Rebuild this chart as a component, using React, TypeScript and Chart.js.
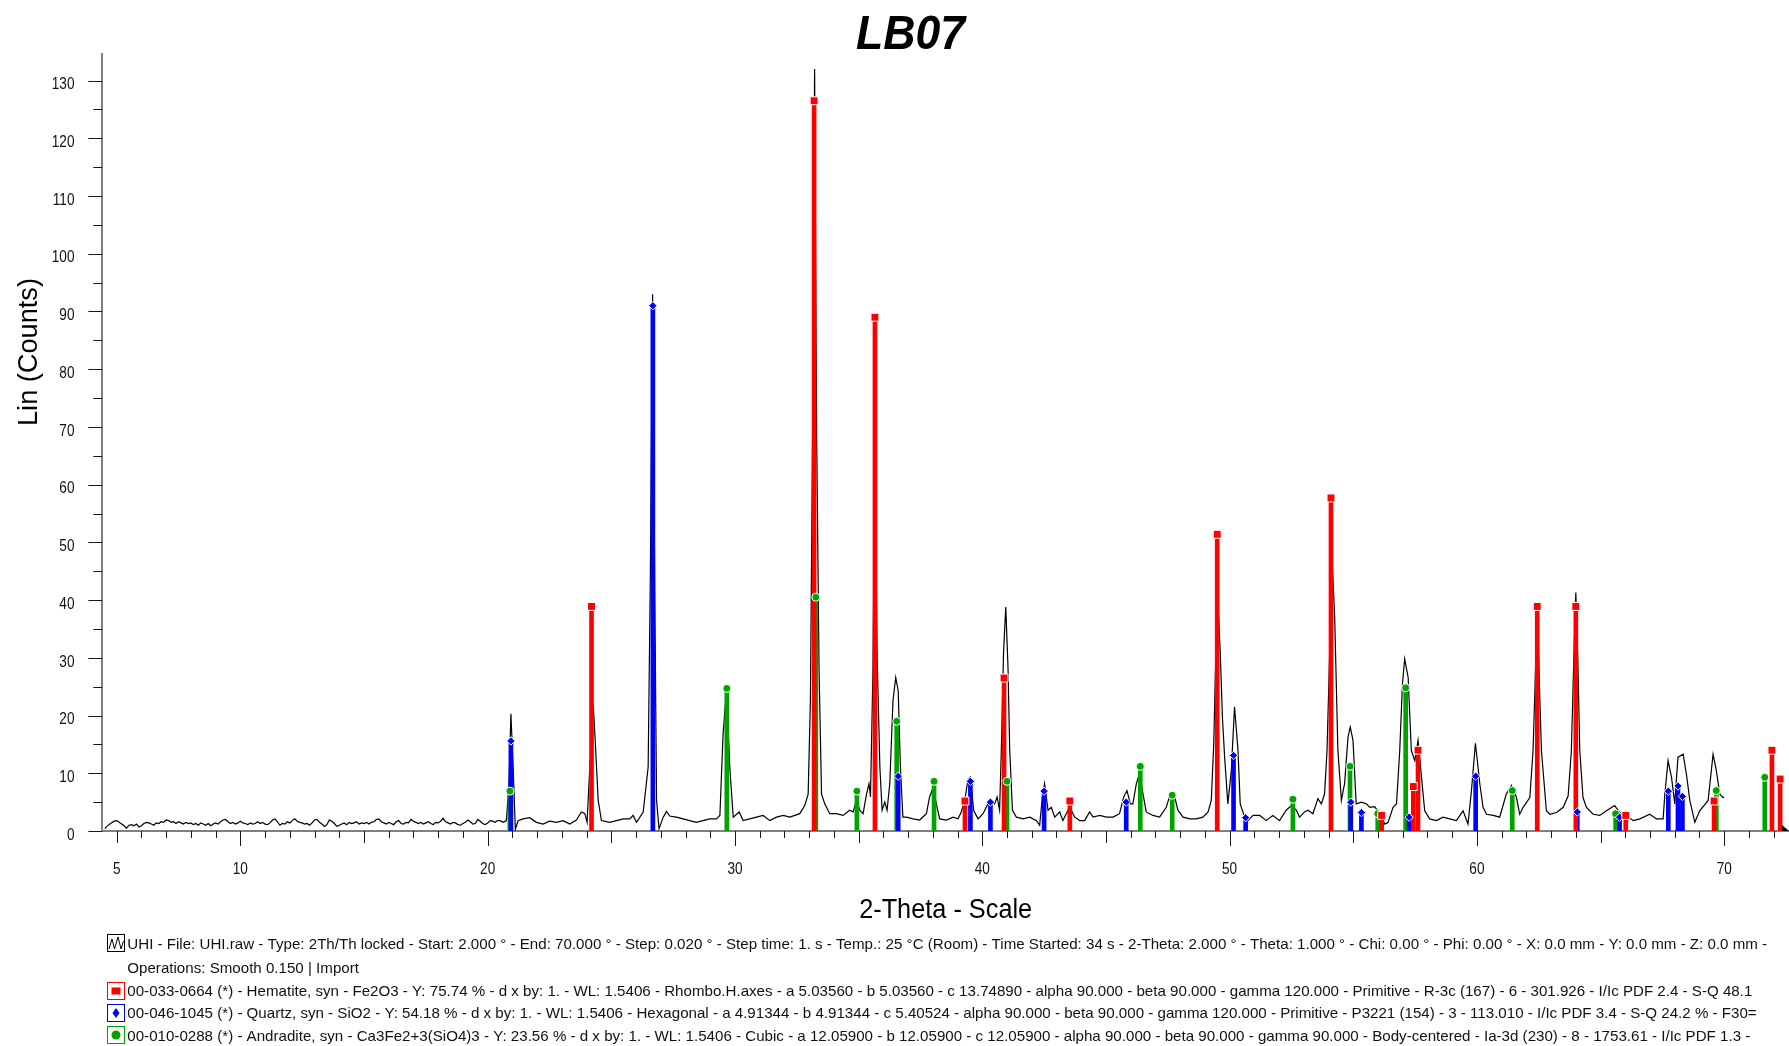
import React, { useEffect, useRef } from 'react';
import { Chart, registerables } from 'chart.js';

Chart.register(...registerables);

// ---- measured scan: [2-theta, counts] ----
const scan: [number, number][] = [
  [4.52, 0.4], [4.6, 0.8], [4.75, 1.3], [4.9, 1.7], [5.0, 1.8], [5.1, 1.5], [5.2, 1.2], [5.3, 0.9], [5.4, 0.5], [5.5, 1.0],
  [5.6, 1.1], [5.7, 0.9], [5.8, 1.2], [5.9, 0.7], [6.0, 0.9], [6.1, 1.3], [6.2, 1.5], [6.3, 1.4], [6.4, 1.2], [6.5, 1.0],
  [6.6, 1.4], [6.7, 1.3], [6.8, 1.6], [6.9, 1.5], [7.0, 1.9], [7.1, 1.8], [7.2, 1.5], [7.3, 1.6], [7.4, 1.3], [7.5, 1.6],
  [7.6, 1.4], [7.7, 1.2], [7.8, 1.5], [7.9, 1.3], [8.0, 1.4], [8.1, 1.1], [8.2, 1.3], [8.3, 1.0], [8.4, 1.4], [8.5, 1.2],
  [8.6, 1.0], [8.7, 1.3], [8.8, 0.9], [8.9, 1.2], [9.0, 1.4], [9.1, 1.2], [9.2, 1.6], [9.3, 1.9], [9.4, 2.0], [9.5, 1.6],
  [9.6, 1.3], [9.7, 1.5], [9.8, 1.2], [9.9, 1.4], [10.0, 1.7], [10.1, 1.4], [10.2, 1.3], [10.3, 1.1], [10.4, 1.4], [10.5, 1.2],
  [10.6, 1.3], [10.7, 1.6], [10.8, 1.3], [10.9, 1.5], [11.0, 1.2], [11.1, 1.1], [11.2, 1.4], [11.3, 1.9], [11.4, 2.1], [11.5, 1.6],
  [11.6, 1.0], [11.7, 1.3], [11.8, 1.2], [11.9, 1.6], [12.0, 1.4], [12.1, 1.8], [12.2, 2.1], [12.3, 1.7], [12.4, 1.5], [12.5, 1.4],
  [12.6, 1.2], [12.7, 1.3], [12.8, 1.0], [12.9, 1.4], [13.0, 1.9], [13.1, 2.0], [13.2, 1.5], [13.3, 1.2], [13.4, 0.8], [13.5, 1.1],
  [13.6, 1.9], [13.7, 1.7], [13.8, 1.3], [13.9, 0.8], [14.0, 1.0], [14.1, 1.2], [14.2, 1.4], [14.3, 1.1], [14.4, 1.5], [14.5, 1.3],
  [14.6, 1.4], [14.7, 1.6], [14.8, 1.2], [14.9, 1.4], [15.0, 1.3], [15.1, 1.5], [15.2, 1.2], [15.3, 1.5], [15.4, 1.6], [15.5, 2.0],
  [15.6, 2.1], [15.7, 1.6], [15.8, 1.4], [15.9, 1.2], [16.0, 1.5], [16.1, 1.3], [16.2, 1.1], [16.3, 1.6], [16.4, 1.8], [16.5, 1.3],
  [16.6, 1.2], [16.7, 1.5], [16.8, 1.4], [16.9, 2.0], [17.0, 1.7], [17.1, 1.5], [17.2, 1.3], [17.3, 1.5], [17.4, 1.2], [17.5, 1.4],
  [17.6, 1.6], [17.7, 1.3], [17.8, 1.1], [17.9, 1.5], [18.0, 1.4], [18.1, 1.7], [18.2, 2.2], [18.3, 1.6], [18.4, 1.4], [18.5, 1.2],
  [18.6, 1.5], [18.7, 1.4], [18.8, 1.1], [18.9, 1.0], [19.0, 1.3], [19.1, 1.5], [19.2, 1.9], [19.3, 1.6], [19.4, 1.2], [19.5, 1.3],
  [19.6, 2.0], [19.7, 1.7], [19.8, 1.3], [19.9, 1.1], [20.0, 1.4], [20.1, 1.8], [20.2, 1.7], [20.3, 1.5], [20.4, 1.8], [20.5, 1.8],
  [20.63, 1.5], [20.76, 1.8], [20.86, 8.2], [20.94, 20.3], [21.03, 11.1], [21.12, 0.3], [21.23, 1.8], [21.43, 2.1], [21.7, 2.3], [21.97, 1.5],
  [22.24, 1.2], [22.51, 1.7], [22.78, 1.5], [23.05, 1.8], [23.32, 1.2], [23.59, 1.9], [23.79, 3.3], [23.93, 3.0], [24.02, 1.5], [24.13, 11.1],
  [24.27, 21.9], [24.37, 13.9], [24.47, 5.3], [24.6, 1.8], [24.94, 1.5], [25.21, 1.8], [25.48, 2.1], [25.75, 2.1], [25.88, 2.7], [26.02, 1.5],
  [26.29, 3.3], [26.49, 11.1], [26.58, 45], [26.67, 93], [26.76, 40], [26.83, 5.3], [26.93, 0.4], [27.1, 2.4], [27.23, 3.4], [27.36, 2.6],
  [27.63, 2.4], [27.9, 2.1], [28.17, 1.8], [28.44, 1.5], [28.71, 1.8], [28.98, 2.1], [29.25, 2.1], [29.39, 2.7], [29.52, 16.8], [29.66, 24.6],
  [29.79, 11.1], [29.93, 2.4], [30.17, 3.3], [30.33, 1.8], [30.6, 2.1], [30.87, 2.4], [31.14, 2.7], [31.41, 1.8], [31.68, 2.4], [31.95, 2.7],
  [32.22, 2.4], [32.62, 3.0], [32.82, 4.4], [32.96, 6.4], [33.05, 22.6], [33.14, 70], [33.22, 132], [33.3, 70], [33.4, 28], [33.5, 6.4],
  [33.63, 4.7], [33.83, 3.0], [34.1, 3.0], [34.37, 2.7], [34.64, 3.6], [34.78, 3.3], [34.91, 5.3], [35.05, 3.6], [35.18, 3.0], [35.32, 6.4],
  [35.42, 8.2], [35.48, 5.9], [35.58, 28], [35.66, 66], [35.75, 30], [35.86, 11], [35.95, 3.6], [36.06, 5.0], [36.15, 3.6], [36.26, 8.2],
  [36.39, 22.6], [36.5, 26.6], [36.6, 24.3], [36.69, 11.1], [36.79, 2.4], [36.93, 2.4], [37.2, 2.1], [37.47, 1.9], [37.74, 3.0], [37.87, 5.9],
  [38.01, 7.5], [38.14, 4.7], [38.28, 2.1], [38.55, 1.9], [38.82, 2.4], [39.02, 2.1], [39.15, 3.3], [39.29, 5.3], [39.42, 8.8], [39.52, 9.3],
  [39.65, 3.6], [39.83, 2.1], [40.03, 3.0], [40.23, 4.7], [40.33, 5.3], [40.5, 4.7], [40.6, 5.9], [40.7, 3.6], [40.77, 14], [40.86, 31],
  [40.95, 38.8], [41.04, 28.4], [41.11, 14], [41.22, 3.6], [41.38, 2.4], [41.65, 2.1], [41.92, 2.4], [42.19, 1.8], [42.32, 1.0], [42.43, 5.9],
  [42.52, 8.2], [42.66, 3.6], [42.79, 4.1], [42.93, 2.4], [43.13, 3.3], [43.26, 1.8], [43.47, 3.6], [43.6, 3.6], [43.74, 2.4], [43.94, 1.8],
  [44.14, 1.8], [44.34, 3.3], [44.48, 2.4], [44.75, 2.7], [45.02, 2.4], [45.29, 2.4], [45.55, 3.0], [45.72, 5.9], [45.85, 7.0], [45.99, 4.7],
  [46.09, 4.7], [46.23, 8.2], [46.36, 10.0], [46.5, 6.4], [46.63, 3.3], [46.9, 2.7], [47.17, 2.4], [47.44, 4.1], [47.6, 6.4], [47.78, 5.9],
  [47.91, 3.6], [48.12, 2.4], [48.39, 2.1], [48.65, 2.1], [48.92, 2.4], [49.13, 3.3], [49.26, 5.3], [49.36, 15.1], [49.44, 30.1], [49.53, 39.4],
  [49.62, 31.3], [49.71, 19.7], [49.8, 12.8], [49.93, 4.7], [50.07, 10.5], [50.2, 21.5], [50.34, 14], [50.43, 4.7], [50.61, 2.4], [50.74, 1.8],
  [50.95, 2.7], [51.22, 2.7], [51.48, 1.8], [51.75, 2.7], [52.02, 1.8], [52.29, 3.6], [52.5, 4.4], [52.7, 3.6], [52.83, 2.4], [53.03, 3.3],
  [53.17, 3.6], [53.37, 3.0], [53.57, 5.6], [53.71, 4.7], [53.84, 6.4], [53.94, 14], [54.05, 31.3], [54.14, 47.5], [54.25, 37], [54.38, 14],
  [54.52, 5.3], [54.65, 8.2], [54.79, 16.3], [54.88, 18.0], [54.99, 15.7], [55.12, 4.7], [55.33, 5.0], [55.53, 4.7], [55.67, 4.1], [55.87, 4.2],
  [56.07, 2.9], [56.28, 1.2], [56.41, 1.5], [56.61, 4.1], [56.75, 4.7], [56.88, 13.9], [56.99, 25.5], [57.08, 29.8], [57.22, 26.6], [57.35, 13.9],
  [57.49, 12.2], [57.62, 15.7], [57.76, 9.3], [57.89, 3.5], [58.09, 2.1], [58.36, 1.8], [58.63, 2.4], [58.9, 2.1], [59.17, 1.8], [59.44, 3.5],
  [59.64, 1.2], [59.78, 7.0], [59.94, 15.2], [60.12, 8.1], [60.25, 4.1], [60.39, 2.9], [60.66, 2.7], [60.92, 2.4], [61.19, 6.4], [61.4, 7.9],
  [61.6, 5.8], [61.73, 2.9], [61.87, 4.1], [62.14, 5.8], [62.27, 13.9], [62.35, 25], [62.44, 39.5], [62.53, 25], [62.61, 13.9], [62.81, 3.5],
  [62.95, 2.9], [63.22, 3.2], [63.49, 4.1], [63.69, 6.1], [63.82, 13.9], [63.92, 30], [64.0, 41.3], [64.08, 30], [64.16, 13.9], [64.29, 5.8],
  [64.43, 4.1], [64.7, 2.9], [64.97, 2.7], [65.24, 3.5], [65.57, 4.4], [65.78, 3.2], [66.05, 2.7], [66.32, 1.8], [66.59, 2.1], [66.99, 2.9],
  [67.26, 2.1], [67.53, 2.1], [67.6, 6.4], [67.73, 12.2], [67.87, 9.3], [68.0, 4.7], [68.13, 12.8], [68.34, 13.3], [68.47, 9.9], [68.61, 5.3],
  [68.81, 1.5], [69.01, 3.5], [69.35, 5.3], [69.55, 13.3], [69.68, 10.5], [69.82, 6.4], [69.95, 5.8], [70.0, 5.9],
];

// ---- reference patterns (stick positions / intensities) ----
const hematiteTheta = [24.2, 33.2, 35.66, 39.3, 40.88, 43.54, 49.5, 54.1, 56.15, 57.43, 57.62, 62.44, 64.0, 66.02, 69.59, 71.93, 72.26];
const hematiteInt = [38.9, 126.5, 89, 5.2, 26.5, 5.2, 51.4, 57.7, 2.7, 7.7, 14.0, 38.9, 38.9, 2.7, 5.2, 14.0, 9.0];

const quartzTheta = [20.94, 26.68, 36.6, 39.52, 40.33, 42.5, 45.82, 50.16, 50.65, 54.9, 55.33, 57.26, 59.95, 64.06, 65.77, 67.74, 68.13, 68.31];
const quartzInt = [15.6, 91, 9.5, 8.6, 5.0, 6.9, 5.0, 13.1, 2.3, 5.0, 3.2, 2.4, 9.5, 3.3, 2.4, 6.9, 7.8, 6.0];

const andraditeTheta = [20.9, 29.67, 33.27, 34.93, 36.54, 38.05, 41.0, 46.39, 47.68, 52.56, 54.87, 55.99, 57.12, 61.43, 65.61, 69.68, 71.64];
const andraditeInt = [6.9, 24.7, 40.5, 6.9, 19.0, 8.6, 8.6, 11.2, 6.2, 5.5, 11.2, 3.0, 24.8, 7.0, 3.0, 7.0, 9.3];

// ---- tick labels ----
const xTickLabels = [5, 10, 20, 30, 40, 50, 60, 70];
const yTickLabels = [0, 10, 20, 30, 40, 50, 60, 70, 80, 90, 100, 110, 120, 130];

// ---- texts ----
const chartTitle = 'LB07';
const xAxisTitle = '2-Theta - Scale';
const yAxisTitle = 'Lin (Counts)';
const scanLegend = 'UHI - File: UHI.raw - Type: 2Th/Th locked - Start: 2.000 ° - End: 70.000 ° - Step: 0.020 ° - Step time: 1. s - Temp.: 25 °C (Room) - Time Started: 34 s - 2-Theta: 2.000 ° - Theta: 1.000 ° - Chi: 0.00 ° - Phi: 0.00 ° - X: 0.0 mm - Y: 0.0 mm - Z: 0.0 mm -';
const operationsLegend = 'Operations: Smooth 0.150 | Import';
const hematiteLegend = '00-033-0664 (*) - Hematite, syn - Fe2O3 - Y: 75.74 % - d x by: 1. - WL: 1.5406 - Rhombo.H.axes - a 5.03560 - b 5.03560 - c 13.74890 - alpha 90.000 - beta 90.000 - gamma 120.000 - Primitive - R-3c (167) - 6 - 301.926 - I/Ic PDF 2.4 - S-Q 48.1';
const quartzLegend = '00-046-1045 (*) - Quartz, syn - SiO2 - Y: 54.18 % - d x by: 1. - WL: 1.5406 - Hexagonal - a 4.91344 - b 4.91344 - c 5.40524 - alpha 90.000 - beta 90.000 - gamma 120.000 - Primitive - P3221 (154) - 3 - 113.010 - I/Ic PDF 3.4 - S-Q 24.2 % - F30=';
const andraditeLegend = '00-010-0288 (*) - Andradite, syn - Ca3Fe2+3(SiO4)3 - Y: 23.56 % - d x by: 1. - WL: 1.5406 - Cubic - a 12.05900 - b 12.05900 - c 12.05900 - alpha 90.000 - beta 90.000 - gamma 90.000 - Body-centered - Ia-3d (230) - 8 - 1753.61 - I/Ic PDF 1.3 -';

const RED = '#ff0000';
const BLUE = '#0000ff';
const GREEN = '#00a400';
const FONT = '"Liberation Sans", Arial, sans-serif';

function drawText(
  ctx: CanvasRenderingContext2D,
  text: string,
  x: number,
  cy: number,
  size: number,
  align: CanvasTextAlign,
  opts: { weight?: string; sx?: number; width?: number } = {}
) {
  ctx.save();
  ctx.font = `${opts.weight ? opts.weight + ' ' : ''}${size}px ${FONT}`;
  const w = ctx.measureText(text).width;
  const sx = opts.width ? opts.width / w : opts.sx ?? 1;
  ctx.translate(x, cy + size * 0.358);
  ctx.scale(sx, 1);
  ctx.textAlign = align;
  ctx.textBaseline = 'alphabetic';
  ctx.fillText(text, 0, 0);
  ctx.restore();
}

const overlayPlugin = {
  id: 'overlay',
  afterDraw(chart: any) {
    const ctx: CanvasRenderingContext2D = chart.ctx;
    const a = chart.chartArea;
    const xs = chart.scales.x;
    const ys = chart.scales.y;
    ctx.save();

    // tick marks
    ctx.strokeStyle = '#1a1a1a';
    ctx.lineWidth = 1;
    ctx.beginPath();
    for (let v = Math.ceil(xs.min); v <= xs.max; v++) {
      const p = Math.round(xs.getPixelForValue(v)) + 0.5;
      const len = v % 10 === 0 ? 15 : v % 5 === 0 ? 12 : 7;
      ctx.moveTo(p, a.bottom);
      ctx.lineTo(p, a.bottom + len);
    }
    for (let v = 0; v <= ys.max; v += 5) {
      const p = Math.round(ys.getPixelForValue(v)) + 0.5;
      const len = v % 10 === 0 ? 14 : 9;
      ctx.moveTo(a.left - len, p);
      ctx.lineTo(a.left, p);
    }
    ctx.stroke();

    // end-of-axis arrow
    ctx.fillStyle = '#000';
    ctx.beginPath();
    ctx.moveTo(a.right - 7, a.bottom - 6);
    ctx.lineTo(a.right, a.bottom);
    ctx.lineTo(a.right - 7, a.bottom);
    ctx.closePath();
    ctx.fill();

    // tick labels
    ctx.fillStyle = '#111';
    for (const v of xTickLabels) {
      drawText(ctx, String(v), xs.getPixelForValue(v), 868, 16, 'center', { sx: 0.85 });
    }
    for (const v of yTickLabels) {
      drawText(ctx, String(v), 74.5, ys.getPixelForValue(v) + 3, 16, 'right', { sx: 0.85 });
    }

    // titles
    ctx.fillStyle = '#000';
    drawText(ctx, chartTitle, 910.5, 32, 48, 'center', { weight: 'italic bold', width: 109 });
    drawText(ctx, xAxisTitle, (a.left + a.right) / 2, 908, 27, 'center', { width: 173 });
    ctx.save();
    ctx.translate(27.8, 352);
    ctx.rotate(-Math.PI / 2);
    drawText(ctx, yAxisTitle, 0, 0, 27, 'center', { width: 148 });
    ctx.restore();

    // legend
    ctx.font = `15px ${FONT}`;
    const legendSx = 1625 / ctx.measureText(hematiteLegend).width;
    const textX = 127.3;
    const rows: { cy: number; text: string; icon: string | null; color: string }[] = [
      { cy: 943.5, text: scanLegend, icon: 'scan', color: '#000' },
      { cy: 967.5, text: operationsLegend, icon: null, color: '#000' },
      { cy: 991, text: hematiteLegend, icon: 'rect', color: RED },
      { cy: 1013, text: quartzLegend, icon: 'diamond', color: BLUE },
      { cy: 1035.5, text: andraditeLegend, icon: 'circle', color: GREEN },
    ];
    for (const r of rows) {
      ctx.fillStyle = '#111';
      drawText(ctx, r.text, textX, r.cy, 15, 'left', { sx: legendSx });
      if (!r.icon) continue;
      const bx = 107.5, bw = 17, bh = 17, by = r.cy - bh / 2 - 1;
      ctx.strokeStyle = r.color;
      ctx.lineWidth = 1;
      ctx.strokeRect(bx, Math.round(by) + 0.5, bw, bh);
      const cx = bx + bw / 2, cyy = Math.round(by) + 0.5 + bh / 2;
      ctx.fillStyle = r.color;
      ctx.beginPath();
      if (r.icon === 'scan') {
        ctx.strokeStyle = '#000';
        ctx.moveTo(bx + 1.5, cyy + 6);
        ctx.lineTo(bx + 4.5, cyy - 4);
        ctx.lineTo(bx + 7, cyy + 6);
        ctx.lineTo(bx + 10.5, cyy - 6);
        ctx.lineTo(bx + 13.5, cyy + 6);
        ctx.lineTo(bx + 16, cyy - 2);
        ctx.stroke();
      } else if (r.icon === 'rect') {
        ctx.rect(cx - 4.5, cyy - 3.5, 9, 7);
        ctx.fill();
      } else if (r.icon === 'diamond') {
        ctx.moveTo(cx, cyy - 5);
        ctx.lineTo(cx + 3.5, cyy);
        ctx.lineTo(cx, cyy + 5);
        ctx.lineTo(cx - 3.5, cyy);
        ctx.closePath();
        ctx.fill();
      } else {
        ctx.arc(cx, cyy, 4.5, 0, Math.PI * 2);
        ctx.fill();
      }
    }
    ctx.restore();
  },
};

function sticks(theta: number[], inten: number[]) {
  return theta.map((t, i) => ({ x: t, y: inten[i] }));
}

export default function App() {
  const canvasRef = useRef<HTMLCanvasElement | null>(null);

  useEffect(() => {
    if (!canvasRef.current) return;
    const markerBase = {
      type: 'line' as const,
      showLine: false,
      pointBorderColor: '#ffffff',
      pointBorderWidth: 1,
      order: 0,
    };
    const stickBase = {
      type: 'bar' as const,
      barThickness: 4,
      grouped: false,
      borderWidth: 0,
      order: 1,
    };
    const chart = new Chart(canvasRef.current, {
      type: 'line',
      data: {
        datasets: [
          { ...markerBase, label: 'Hematite', data: sticks(hematiteTheta, hematiteInt), pointStyle: 'rect', pointRadius: 5.6, pointBackgroundColor: RED },
          { ...markerBase, label: 'Quartz', data: sticks(quartzTheta, quartzInt), pointStyle: 'rectRot', pointRadius: 4.2, pointBackgroundColor: BLUE },
          { ...markerBase, label: 'Andradite', data: sticks(andraditeTheta, andraditeInt), pointStyle: 'circle', pointRadius: 4, pointBackgroundColor: GREEN },
          { ...stickBase, label: 'Hematite sticks', data: sticks(hematiteTheta, hematiteInt), backgroundColor: RED },
          { ...stickBase, label: 'Quartz sticks', data: sticks(quartzTheta, quartzInt), backgroundColor: BLUE },
          { ...stickBase, label: 'Andradite sticks', data: sticks(andraditeTheta, andraditeInt), backgroundColor: GREEN },
          {
            type: 'line',
            label: 'UHI',
            data: scan.map(([x, y]) => ({ x, y })),
            borderColor: '#000000',
            borderWidth: 1.2,
            pointRadius: 0,
            tension: 0,
            order: 2,
          },
        ] as any,
      },
      options: {
        animation: false,
        responsive: true,
        maintainAspectRatio: false,
        events: [],
        layout: { autoPadding: false, padding: { top: 54, left: 0, right: 0, bottom: 0 } },
        plugins: {
          legend: { display: false },
          tooltip: { enabled: false },
          title: { display: false },
        },
        scales: {
          x: {
            type: 'linear',
            min: 4.418,
            max: 72.62,
            offset: false,
            grid: { display: false, drawTicks: false },
            ticks: { display: false },
            border: { display: true, color: '#808080', width: 2 },
            afterFit: (s: any) => {
              s.height = 215;
            },
          },
          y: {
            type: 'linear',
            min: 0,
            max: 134.6,
            grid: { display: false, drawTicks: false },
            ticks: { display: false },
            border: { display: true, color: '#808080', width: 2 },
            afterFit: (s: any) => {
              s.width = 102.3;
            },
          },
        },
      } as any,
      plugins: [overlayPlugin],
    });
    return () => chart.destroy();
  }, []);

  return (
    <div style={{ position: 'fixed', left: 0, top: 0, width: 1789, height: 1046, background: '#ffffff' }}>
      <canvas ref={canvasRef} />
    </div>
  );
}
